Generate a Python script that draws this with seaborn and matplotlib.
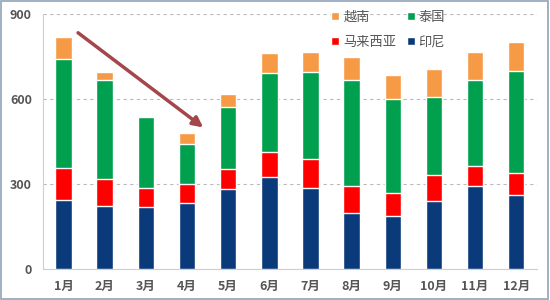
import numpy as np
import pandas as pd
import matplotlib
matplotlib.use('Agg')
import matplotlib.pyplot as plt
import seaborn as sns

months = ['1月', '2月', '3月', '4月', '5月', '6月', '7月', '8月', '9月', '10月', '11月', '12月']
indonesia = [244, 223, 220, 232, 281, 326, 287, 199, 187, 242, 294, 260]
malaysia = [112, 94, 68, 68, 74, 88, 100, 95, 81, 89, 70, 80]
thailand = [385, 349, 249, 140, 218, 279, 307, 375, 331, 277, 303, 360]
vietnam = [78, 30, 4, 39, 46, 71, 73, 80, 85, 98, 100, 103]

series = ['印尼', '马来西亚', '泰国', '越南']
colors = {'印尼': '#0b3a7a', '马来西亚': '#ff0000', '泰国': '#00a04e', '越南': '#f79a46'}

df = pd.DataFrame({'month': months, '印尼': indonesia, '马来西亚': malaysia,
                   '泰国': thailand, '越南': vietnam})
cum = df[series].cumsum(axis=1)
cum['month'] = months

sns.set_style('white')
plt.rcParams['font.family'] = ['Noto Sans CJK SC', 'DejaVu Sans']

fig = plt.figure(figsize=(5.5, 3), dpi=100)
ax = fig.add_axes([0.078, 0.103, 0.898, 0.85])

# draw from the top total down so each layer covers the one below
for s in reversed(series):
    sns.barplot(data=cum, x='month', y=s, color=colors[s], width=0.4,
                ax=ax, saturation=1, label=s, zorder=3)

ax.set_ylim(0, 900)
ax.set_yticks([0, 300, 600, 900])
ax.set_xlim(-0.5, 11.5)
ax.yaxis.grid(True, linestyle=(0, (3, 3)), color='#bbbbbb', linewidth=0.8, zorder=0)
ax.set_axisbelow(True)
ax.set_xlabel('')
ax.set_ylabel('')
for sp in ['top', 'right']:
    ax.spines[sp].set_visible(False)
ax.spines['left'].set_color('#cfcfcf')
ax.spines['bottom'].set_color('#cfcfcf')
ax.tick_params(axis='y', length=0, labelsize=9, labelcolor='#555555', pad=8)
ax.tick_params(axis='x', length=0, labelsize=9, labelcolor='#555555', pad=8)
for lab in ax.get_xticklabels() + ax.get_yticklabels():
    lab.set_fontweight('bold')
# minor ticks between categories
ax.set_xticks(np.arange(-0.5, 12, 1), minor=True)
ax.tick_params(axis='x', which='minor', length=3, color='#cfcfcf', direction='in')

# arrow showing the decline
ax.annotate('', xy=(3.45, 494), xytext=(0.3, 840),
            arrowprops=dict(arrowstyle='-|>', color='#a3474d', lw=2.5,
                            mutation_scale=15), zorder=5)

handles, labels = ax.get_legend_handles_labels()
# column-wise fill: rows read 越南 泰国 / 马来西亚 印尼
order = ['越南', '马来西亚', '泰国', '印尼']
hmap = dict(zip(labels, handles))
ax.legend([hmap[k] for k in order], order, ncol=2, loc='upper left',
          bbox_to_anchor=(0.56, 1.06), frameon=False, fontsize=9.5,
          handlelength=0.6, handleheight=0.6, handletextpad=0.3,
          columnspacing=0.8, labelspacing=0.9, labelcolor='#555555')

fig.patches.append(plt.Rectangle((0.002, 0.003), 0.995, 0.993, transform=fig.transFigure,
                                 fill=False, edgecolor='#8fa3b8', linewidth=1.2))

fig.savefig('out.png', dpi=100)
